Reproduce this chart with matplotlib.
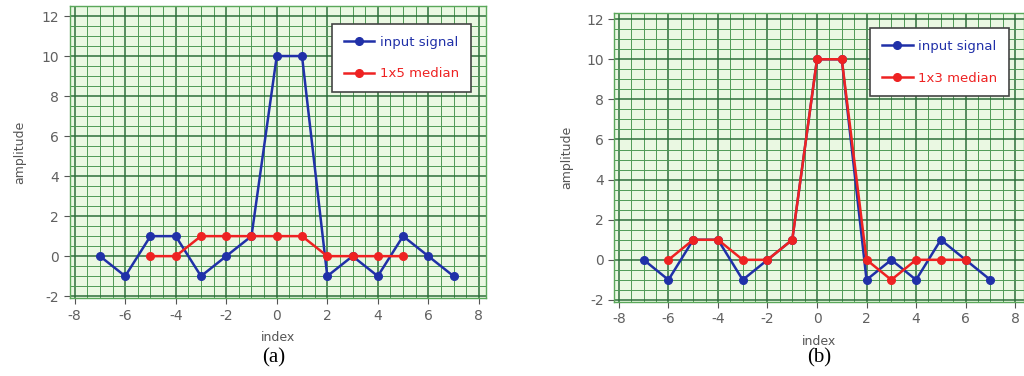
import numpy as np
import matplotlib.pyplot as plt
from matplotlib.ticker import MultipleLocator

plt.rcParams["axes.unicode_minus"] = False

# data
idx = [-7, -6, -5, -4, -3, -2, -1, 0, 1, 2, 3, 4, 5, 6, 7]
signal = [0, -1, 1, 1, -1, 0, 1, 10, 10, -1, 0, -1, 1, 0, -1]

idx5 = [-5, -4, -3, -2, -1, 0, 1, 2, 3, 4, 5]
median5 = [0, 0, 1, 1, 1, 1, 1, 0, 0, 0, 0]

idx3 = [-6, -5, -4, -3, -2, -1, 0, 1, 2, 3, 4, 5, 6]
median3 = [0, 1, 1, 0, 0, 1, 10, 10, 0, -1, 0, 0, 0]

blue = "#2030a8"
red = "#ee2222"

fig = plt.figure(figsize=(10.24, 3.76), dpi=100)
ax1 = fig.add_axes([0.068, 0.207, 0.407, 0.777])
ax2 = fig.add_axes([0.5996, 0.197, 0.4004, 0.768])


def style(ax, xlim, ylim, ypad):
    ax.set_facecolor("#eaf8e2")
    ax.set_xlim(*xlim)
    ax.set_ylim(*ylim)
    ax.xaxis.set_major_locator(MultipleLocator(2))
    ax.yaxis.set_major_locator(MultipleLocator(2))
    ax.xaxis.set_minor_locator(MultipleLocator(0.5))
    ax.yaxis.set_minor_locator(MultipleLocator(0.5))
    ax.grid(which="major", color="#2d6e3a", lw=1.1)
    ax.grid(which="minor", color="#4f9a55", lw=0.7)
    ax.set_axisbelow(True)
    for s in ax.spines.values():
        s.set_color("#5aa85a")
        s.set_linewidth(1.0)
    ax.tick_params(which="major", length=4, color="#555555", labelsize=10,
                   labelcolor="#606060")
    ax.tick_params(which="minor", length=0)
    ax.set_xlabel("index", fontsize=9, color="#555555", labelpad=6)
    ax.set_ylabel("amplitude", fontsize=9, color="#555555", labelpad=ypad)


def add_legend(ax, labels_colors, anchor):
    leg = ax.legend(loc="upper right", bbox_to_anchor=anchor, fontsize=9.5,
                    frameon=True, fancybox=False, edgecolor="#444444",
                    framealpha=1, borderpad=0.9, labelspacing=1.4,
                    handlelength=2.3, handletextpad=0.4, borderaxespad=0)
    leg.get_frame().set_linewidth(1.2)
    for txt, c in zip(leg.get_texts(), labels_colors):
        txt.set_color(c)


# (a) 1x5 median
style(ax1, (-8.2, 8.3), (-2.1, 12.5), 11)
ax1.plot(idx, signal, color=blue, lw=1.8, marker="o", ms=5.5, label="input signal")
ax1.plot(idx5, median5, color=red, lw=1.8, marker="o", ms=5.5, label="1x5 median")
add_legend(ax1, [blue, red], (0.962, 0.938))

# (b) 1x3 median
style(ax2, (-8.2, 8.36), (-2.1, 12.3), 9)
ax2.plot(idx, signal, color=blue, lw=1.8, marker="o", ms=5.5, label="input signal")
ax2.plot(idx3, median3, color=red, lw=1.8, marker="o", ms=5.5, label="1x3 median")
add_legend(ax2, [blue, red], (0.963, 0.948))

fig.text(0.267, 0.035, "(a)", fontsize=15, family="Liberation Serif", ha="center")
fig.text(0.800, 0.035, "(b)", fontsize=15, family="Liberation Serif", ha="center")

fig.savefig("out.png", dpi=100)
